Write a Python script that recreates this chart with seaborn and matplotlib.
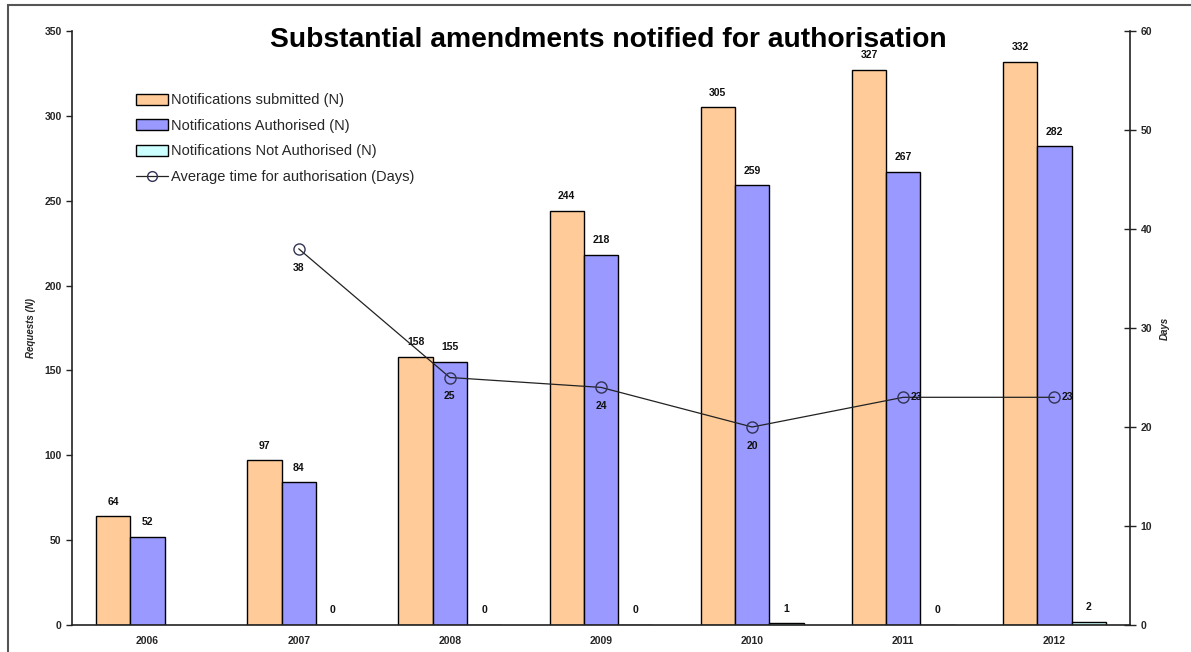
import matplotlib
matplotlib.use("Agg")
import matplotlib.pyplot as plt
import seaborn as sns
import numpy as np
import pandas as pd
from matplotlib.patches import Rectangle, Patch
from matplotlib.lines import Line2D

years = ["2006", "2007", "2008", "2009", "2010", "2011", "2012"]
submitted = [64, 97, 158, 244, 305, 327, 332]
authorised = [52, 84, 155, 218, 259, 267, 282]
not_authorised = [np.nan, 0, 0, 0, 1, 0, 2]
avg_days = [np.nan, 38, 25, 24, 20, 23, 23]
series_names = ["Notifications submitted (N)", "Notifications Authorised (N)",
                "Notifications Not Authorised (N)"]
line_name = "Average time for authorisation (Days)"
colors = ["#FFCC99", "#9999FF", "#CCFFFF"]

sns.set_theme(style="white")
plt.rcParams['font.family'] = ['Liberation Sans', 'DejaVu Sans']

df = pd.DataFrame({
    "year": years * 3,
    "series": [series_names[0]] * 7 + [series_names[1]] * 7 + [series_names[2]] * 7,
    "value": submitted + authorised + not_authorised,
})

fig = plt.figure(figsize=(11.91, 6.52), dpi=100)
fig.patches.append(Rectangle((8 / 1191, -0.1), 1.2, (652 - 5) / 652 + 0.1,
                             transform=fig.transFigure, fill=False,
                             edgecolor="#555555", lw=1.5))
ax = fig.add_axes([72 / 1191, 27 / 652, 1058 / 1191, 594 / 652])

sns.barplot(data=df, x="year", y="value", hue="series", order=years,
            hue_order=series_names, palette=colors, width=0.68,
            edgecolor="black", linewidth=1.0, saturation=1, ax=ax, legend=False)

ax.set_ylim(0, 350)
ax.set_xlim(-0.5, 6.5)
ax.set_yticks(np.arange(0, 351, 50))
ax.set_xticks(np.arange(len(years)))
ax.set_xticklabels(years)
ax.set_xticks(np.arange(-0.5, 7, 1), minor=True)
ax.tick_params(axis="x", which="major", length=0, labelsize=7.5, pad=8)
ax.tick_params(axis="x", which="minor", length=5, width=1, direction="out", color="#222222")
ax.tick_params(axis="y", length=4, width=1, direction="out", labelsize=7.5, color="#222222")
for lab in ax.get_xticklabels() + ax.get_yticklabels():
    lab.set_fontweight("bold")
ax.set_xlabel("")
ax.set_ylabel("Requests (N)", fontsize=7, fontstyle="italic", fontweight="bold", labelpad=6)
for s in ["top", "right"]:
    ax.spines[s].set_visible(False)
for s in ["left", "bottom"]:
    ax.spines[s].set_color("#222222")
    ax.spines[s].set_linewidth(1.2)

# bar value labels
off = 0.68 / 3
for i, vals in enumerate([submitted, authorised, not_authorised]):
    for j, v in enumerate(vals):
        if np.isnan(v):
            continue
        ax.annotate(f"{int(v)}", (j + (i - 1) * off, v), xytext=(0, 7),
                    textcoords="offset points", ha="center", va="bottom",
                    fontsize=7.5, fontweight="bold", color="#111111")

ax2 = ax.twinx()
xs = np.arange(len(years))
ldf = pd.DataFrame({"x": xs, "days": avg_days}).dropna()
sns.lineplot(data=ldf, x="x", y="days", ax=ax2, color="#222222", lw=0.9,
             marker="o", markersize=8, markerfacecolor="none",
             markeredgecolor="#333355", markeredgewidth=1.0)
ax2.set_ylim(0, 60)
ax2.set_yticks(np.arange(0, 61, 10))
ax2.set_xlim(-0.5, 6.5)
ax2.set_xlabel("")
ax2.set_ylabel("Days", fontsize=7, fontstyle="italic", fontweight="bold", labelpad=6)
ax2.tick_params(axis="y", length=8, width=1, direction="inout", labelsize=7.5, color="#222222")
for lab in ax2.get_yticklabels():
    lab.set_fontweight("bold")
for s in ["top", "left", "bottom"]:
    ax2.spines[s].set_visible(False)
ax2.spines["right"].set_color("#222222")
ax2.spines["right"].set_linewidth(1.2)

label_pos = ["below", "below", "below", "below", "below", "right", "right"]
for j, v in enumerate(avg_days):
    if np.isnan(v):
        continue
    if label_pos[j] == "below":
        ax2.annotate(f"{int(v)}", (j, v), xytext=(0, -10), textcoords="offset points",
                     ha="center", va="top", fontsize=7.5, fontweight="bold", color="#111111")
    else:
        ax2.annotate(f"{int(v)}", (j, v), xytext=(5, 0), textcoords="offset points",
                     ha="left", va="center", fontsize=7.5, fontweight="bold", color="#111111")

handles = [Patch(facecolor=c, edgecolor="black", lw=1.0) for c in colors]
handles.append(Line2D([0], [0], color="#222222", lw=0.9, marker="o", markersize=7,
                      markerfacecolor="none", markeredgecolor="#333355"))
ax2.legend(handles, series_names + [line_name], loc="upper left",
           bbox_to_anchor=(0.055, 0.905), frameon=False, fontsize=10.5,
           handlelength=2.2, handleheight=0.8, labelspacing=0.79, handletextpad=0.2,
           borderaxespad=0)

fig.text(608 / 1191, 1 - 40 / 652, "Substantial amendments notified for authorisation",
         ha="center", va="center", fontsize=20.3, fontweight="bold", color="black")

fig.savefig("out.png", dpi=100)
